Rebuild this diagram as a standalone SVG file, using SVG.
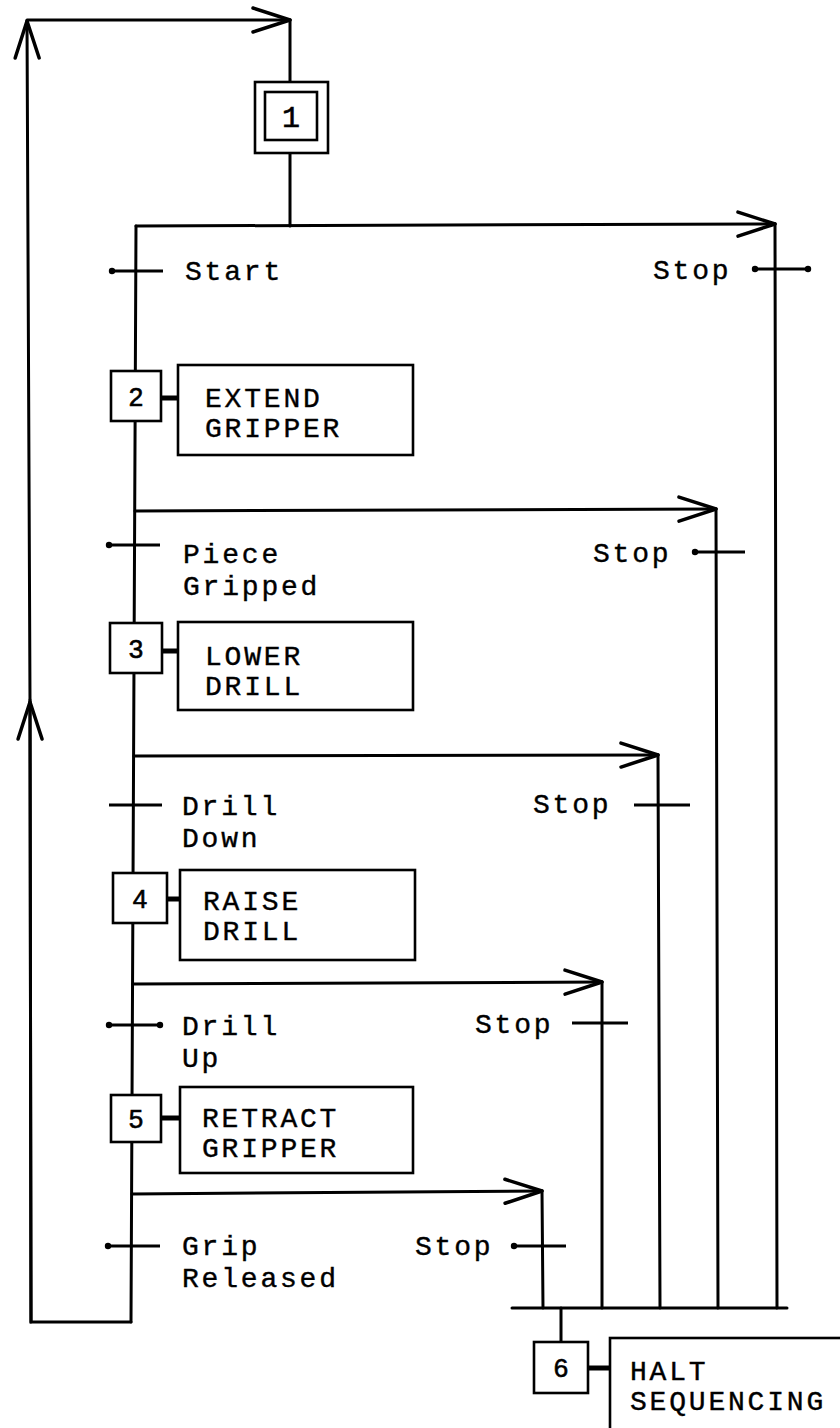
<svg xmlns="http://www.w3.org/2000/svg" width="840" height="1428" viewBox="0 0 840 1428">
<style>
.ln{stroke:#000;stroke-width:3;fill:none;stroke-linecap:round}
.bx{stroke:#000;stroke-width:2.6;fill:#fff}
.tk{stroke:#000;stroke-width:3;fill:none}
.lnk{stroke:#000;stroke-width:5;fill:none}
.t{font-family:"Liberation Mono","Courier New",monospace;font-size:28px;letter-spacing:2.8px;fill:#000;stroke:#000;stroke-width:0.4}
.n{font-family:"Liberation Sans",Arial,sans-serif;font-size:26px;fill:#000;text-anchor:middle;stroke:#000;stroke-width:0.6}
</style>
<defs>
<marker id="arr" markerUnits="userSpaceOnUse" markerWidth="50" markerHeight="40" viewBox="-40 -20 50 40" refX="0" refY="0" orient="auto" overflow="visible">
<path d="M-37,-12 L0,0 L-37,12" fill="none" stroke="#000" stroke-width="3.5" stroke-linecap="round" stroke-linejoin="round"/>
</marker>
<circle id="dot" r="3.2" fill="#000"/>
</defs>
<rect width="840" height="1428" fill="#fff"/>
<g id="connectors">
<line class="ln" x1="136" y1="226" x2="131" y2="1322"/>
<polyline class="ln" points="131,1322 31,1322 30,700"/>
<line class="ln" x1="31" y1="1322" x2="30" y2="702" marker-end="url(#arr)"/>
<line class="ln" x1="30" y1="700" x2="27" y2="21" marker-end="url(#arr)"/>
<line class="ln" x1="27" y1="20" x2="290" y2="20" marker-end="url(#arr)"/>
<line class="ln" x1="290" y1="20" x2="290" y2="82"/>
<line class="ln" x1="290" y1="153" x2="290" y2="226"/>
<line class="ln" x1="136" y1="226" x2="775" y2="224" marker-end="url(#arr)"/>
<line class="ln" x1="775" y1="224" x2="777" y2="1308"/>
<line class="ln" x1="135" y1="511" x2="716" y2="509" marker-end="url(#arr)"/>
<line class="ln" x1="716" y1="509" x2="718" y2="1308"/>
<line class="ln" x1="134" y1="756" x2="658" y2="755" marker-end="url(#arr)"/>
<line class="ln" x1="658" y1="755" x2="660" y2="1308"/>
<line class="ln" x1="133" y1="984" x2="602" y2="982" marker-end="url(#arr)"/>
<line class="ln" x1="602" y1="982" x2="602" y2="1308"/>
<line class="ln" x1="132" y1="1194" x2="542" y2="1191" marker-end="url(#arr)"/>
<line class="ln" x1="542" y1="1191" x2="543" y2="1308"/>
<line class="ln" x1="512" y1="1308" x2="787" y2="1308"/>
<line class="ln" x1="561" y1="1308" x2="561" y2="1342"/>
</g>
<g id="t1">
<line class="tk" x1="112" y1="271" x2="163" y2="271"/><use href="#dot" x="112" y="271"/>
<text class="t" x="185" y="280">Start</text>
</g>
<g id="t1s">
<line class="tk" x1="755" y1="269" x2="808" y2="269"/><use href="#dot" x="755" y="269"/><use href="#dot" x="808" y="269"/>
<text class="t" x="653" y="279">Stop</text>
</g>
<g id="t2">
<line class="tk" x1="109" y1="545" x2="160" y2="545"/><use href="#dot" x="109" y="545"/>
<text class="t" x="183" y="563">Piece</text>
<text class="t" x="183" y="595">Gripped</text>
</g>
<g id="t2s">
<line class="tk" x1="695" y1="552" x2="745" y2="552"/><use href="#dot" x="695" y="552"/>
<text class="t" x="593" y="562">Stop</text>
</g>
<g id="t3">
<line class="tk" x1="109" y1="805" x2="162" y2="805"/>
<text class="t" x="182" y="815">Drill</text>
<text class="t" x="182" y="847">Down</text>
</g>
<g id="t3s">
<line class="tk" x1="634" y1="805" x2="690" y2="805"/>
<text class="t" x="533" y="813">Stop</text>
</g>
<g id="t4">
<line class="tk" x1="109" y1="1025" x2="160" y2="1025"/><use href="#dot" x="109" y="1025"/><use href="#dot" x="160" y="1025"/>
<text class="t" x="182" y="1035">Drill</text>
<text class="t" x="182" y="1067">Up</text>
</g>
<g id="t4s">
<line class="tk" x1="572" y1="1023" x2="628" y2="1023"/>
<text class="t" x="475" y="1033">Stop</text>
</g>
<g id="t5">
<line class="tk" x1="108" y1="1246" x2="160" y2="1246"/><use href="#dot" x="108" y="1246"/>
<text class="t" x="182" y="1255">Grip</text>
<text class="t" x="182" y="1287">Released</text>
</g>
<g id="t5s">
<line class="tk" x1="514" y1="1246" x2="566" y2="1246"/><use href="#dot" x="514" y="1246"/>
<text class="t" x="415" y="1255">Stop</text>
</g>
<g id="step1">
<rect class="bx" x="255" y="82" width="73" height="71"/>
<rect class="bx" x="265" y="92" width="52" height="48"/>
<text class="n" x="291" y="127" style="font-family:'Liberation Mono',monospace;font-size:30px">1</text>
</g>
<g id="step2">
<rect class="bx" x="111" y="371" width="50" height="50"/>
<text class="n" x="136" y="406">2</text>
<line class="lnk" x1="161" y1="398" x2="178" y2="398"/>
<rect class="bx" x="178" y="365" width="235" height="90"/>
<text class="t" x="205" y="407">EXTEND</text>
<text class="t" x="205" y="437">GRIPPER</text>
</g>
<g id="step3">
<rect class="bx" x="110" y="623" width="52" height="50"/>
<text class="n" x="136" y="658">3</text>
<line class="lnk" x1="162" y1="651" x2="178" y2="651"/>
<rect class="bx" x="178" y="622" width="235" height="88"/>
<text class="t" x="205" y="665">LOWER</text>
<text class="t" x="205" y="695">DRILL</text>
</g>
<g id="step4">
<rect class="bx" x="113" y="873" width="54" height="50"/>
<text class="n" x="140" y="908">4</text>
<line class="lnk" x1="167" y1="899" x2="180" y2="899"/>
<rect class="bx" x="180" y="870" width="235" height="90"/>
<text class="t" x="203" y="910">RAISE</text>
<text class="t" x="203" y="940">DRILL</text>
</g>
<g id="step5">
<rect class="bx" x="111" y="1095" width="50" height="47"/>
<text class="n" x="136" y="1128">5</text>
<line class="lnk" x1="161" y1="1118" x2="180" y2="1118"/>
<rect class="bx" x="180" y="1087" width="233" height="86"/>
<text class="t" x="202" y="1127">RETRACT</text>
<text class="t" x="202" y="1157">GRIPPER</text>
</g>
<g id="step6">
<rect class="bx" x="534" y="1342" width="54" height="51"/>
<text class="n" x="561" y="1377">6</text>
<line class="lnk" x1="588" y1="1368" x2="610" y2="1368"/>
<rect class="bx" x="610" y="1338" width="250" height="100"/>
<text class="t" x="630" y="1380">HALT</text>
<text class="t" x="630" y="1410">SEQUENCING</text>
</g>
</svg>
